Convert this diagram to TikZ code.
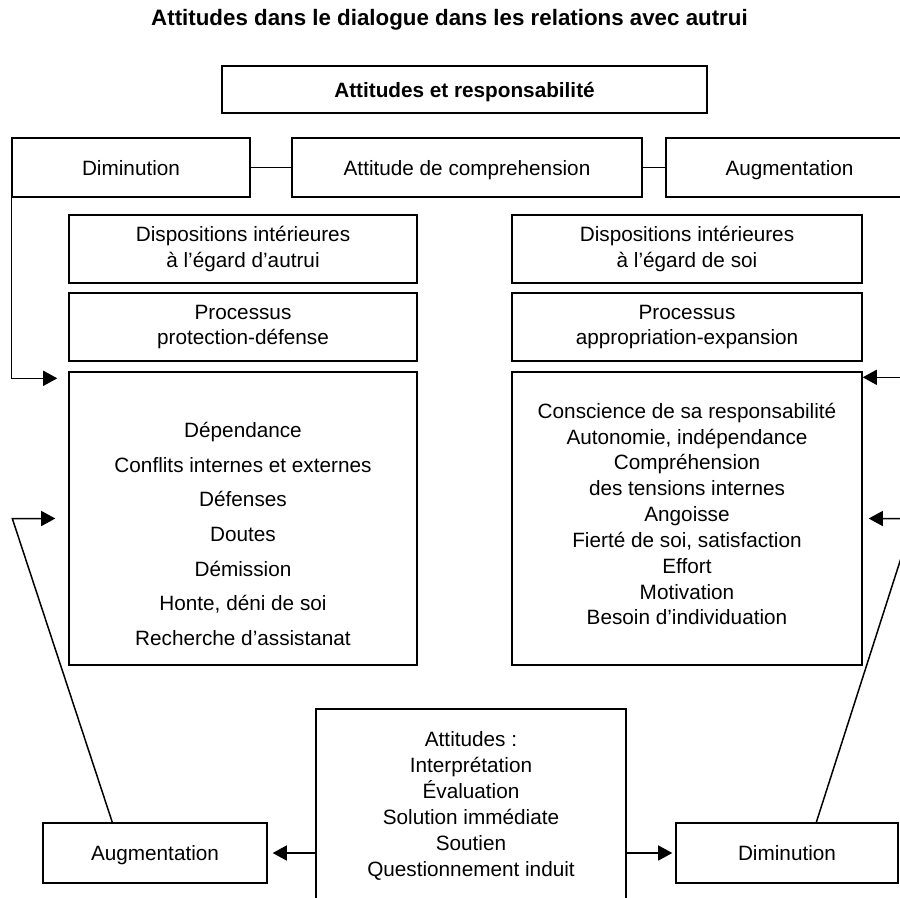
\documentclass[tikz,border=0pt]{standalone}
\usepackage{fontspec}
\setmainfont{Liberation Sans}
\usetikzlibrary{arrows.meta}

\tikzset{
	boite/.style={draw, line width=0.8pt, align=center, inner sep=0pt,
		font=\fontsize{11.8}{14.7}\selectfont},
	ligne/.style={text height=9.8pt, text depth=1.2pt},
	texte/.style={align=center, inner sep=0pt, font=\fontsize{11.8}{14.7}\selectfont},
	trait/.style={line width=0.8pt},
	fleche/.style={line width=0.85pt, -{Triangle[length=8pt,width=8.5pt]}}
}

\begin{document}
\begin{tikzpicture}
		\useasboundingbox (0,0) rectangle (18,-17.94);
		\clip (0,0) rectangle (18,-17.94);
		
		% Title and top row
		\node[texte, font=\fontsize{12.7}{15}\selectfont\bfseries] (titre) at (8.99,-0.40) {Attitudes dans le dialogue dans les relations avec autrui};
		\node[boite, ligne, font=\fontsize{11.8}{14.7}\selectfont\bfseries, minimum width=9.7cm, minimum height=0.94cm] (resp) at (9.29,-1.79) {Attitudes et responsabilité};
		\node[boite, ligne, minimum width=4.76cm, minimum height=1.18cm] (dimi) at (2.62,-3.35) {Diminution};
		\node[boite, ligne, minimum width=7cm, minimum height=1.18cm] (compr) at (9.34,-3.35) {Attitude de comprehension};
		\node[boite, ligne, minimum width=4.94cm, minimum height=1.18cm] (augm) at (15.79,-3.35) {Augmentation};
		\draw[trait] (dimi.east) -- (compr.west);
		\draw[trait] (compr.east) -- (augm.west);
		
		% Left column
		\node[boite, minimum width=6.96cm, minimum height=1.36cm] (dispA) at (4.86,-4.98) {Dispositions intérieures\\à l’égard d’autrui};
		\node[boite, minimum width=6.96cm, minimum height=1.36cm] (procA) at (4.86,-6.54) {Processus\\protection-défense};
		\node[boite, minimum width=6.96cm, minimum height=5.86cm] (autrui) at (4.86,-10.37) {};
		\node[texte] (autruitxt) at ([yshift=-0.31cm]autrui.center) {Dépendance\\[5pt]Conflits internes et externes\\[5pt]Défenses\\[5pt]Doutes\\[5pt]Démission\\[5pt]Honte, déni de soi\\[5pt]Recherche d’assistanat};
		
		% Right column
		\node[boite, minimum width=7cm, minimum height=1.36cm] (dispS) at (13.74,-4.98) {Dispositions intérieures\\à l’égard de soi};
		\node[boite, minimum width=7cm, minimum height=1.36cm] (procS) at (13.74,-6.54) {Processus\\appropriation-expansion};
		\node[boite, minimum width=7cm, minimum height=5.86cm] (soi) at (13.74,-10.37) {};
		\node[texte] (soitxt) at ([yshift=0.09cm]soi.center) {Conscience de sa responsabilité\\Autonomie, indépendance\\Compréhension\\des tensions internes\\Angoisse\\Fierté de soi, satisfaction\\Effort\\Motivation\\Besoin d’individuation};
		
		% Bottom row
		\node[boite, minimum width=6.2cm, minimum height=3.88cm] (attbas) at (9.42,-16.12) {Attitudes :\\Interprétation\\Évaluation\\Solution immédiate\\Soutien\\Questionnement induit};
		\node[boite, ligne, minimum width=4.48cm, minimum height=1.2cm] (augbas) at (3.10,-17.06) {Augmentation};
		\node[boite, ligne, minimum width=4.44cm, minimum height=1.2cm] (dimbas) at (15.74,-17.06) {Diminution};
		
		\draw[fleche] (attbas.west |- augbas.east) -- ([xshift=0.1cm]augbas.east);
		\draw[fleche] (attbas.east |- dimbas.west) -- ([xshift=-0.06cm]dimbas.west);
		
		% Feedback arrows
		\draw[fleche] (dimi.south west) |- ([shift={(-0.22cm,-0.14cm)}]autrui.north west);
		\draw[fleche] ([xshift=1.4cm]augbas.north west) -- ([xshift=-1.12cm]autrui.west) -- ([xshift=-0.26cm]autrui.west);
		\draw[fleche] (augm.south east) |- ([yshift=-0.12cm]soi.north east);
		\draw[fleche] ([xshift=2.82cm]dimbas.north west) -- ([xshift=1.02cm]soi.east) -- ([xshift=0.12cm]soi.east);
	\end{tikzpicture}
\end{document}
